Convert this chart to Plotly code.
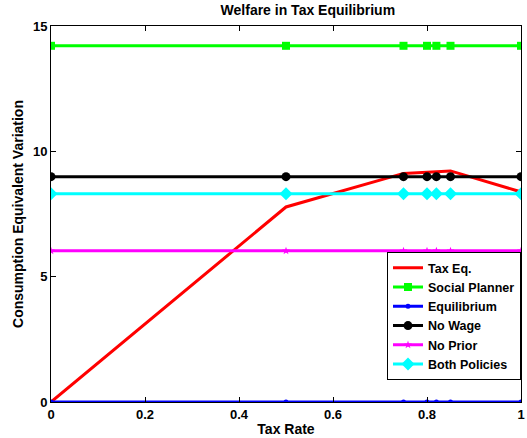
import plotly.graph_objects as go

tax_rate = [0, 0.5, 0.75, 0.8, 0.82, 0.85, 1.0]
tax_eq = [0.0, 7.78, 9.12, 9.18, 9.2, 9.22, 8.38]
social_planner = [14.21] * 7
equilibrium = [0.0] * 7
no_wage = [8.99] * 7
no_prior = [6.03] * 7
both_policies = [8.31] * 7

FONT = "Liberation Sans, Arial, sans-serif"

fig = go.Figure()
fig.add_trace(go.Scatter(x=tax_rate, y=tax_eq, name="Tax Eq.", mode="lines",
                         line=dict(color="#ff0000", width=3)))
fig.add_trace(go.Scatter(x=tax_rate, y=social_planner, name="Social Planner", mode="lines+markers",
                         line=dict(color="#00ff00", width=3),
                         marker=dict(symbol="square", size=8, color="#00ff00")))
fig.add_trace(go.Scatter(x=tax_rate, y=equilibrium, name="Equilibrium", mode="lines+markers",
                         line=dict(color="#0000ff", width=3),
                         marker=dict(symbol="circle", size=5, color="#0000ff")))
fig.add_trace(go.Scatter(x=tax_rate, y=no_wage, name="No Wage", mode="lines+markers",
                         line=dict(color="#000000", width=3),
                         marker=dict(symbol="circle", size=9, color="#000000")))
fig.add_trace(go.Scatter(x=tax_rate, y=no_prior, name="No Prior", mode="lines+markers",
                         line=dict(color="#ff00ff", width=3),
                         marker=dict(symbol="star", size=6, color="#ff00ff")))
fig.add_trace(go.Scatter(x=tax_rate, y=both_policies, name="Both Policies", mode="lines+markers",
                         line=dict(color="#00ffff", width=3),
                         marker=dict(symbol="diamond", size=10, color="#00ffff")))

axis_common = dict(showline=True, linecolor="black", linewidth=1, mirror="ticks",
                   ticks="inside", ticklen=5, tickcolor="black", showgrid=False, zeroline=False,
                   ticklabeloverflow="allow",
                   tickfont=dict(family=FONT, size=13, color="black", weight="bold"))

fig.update_layout(
    width=527, height=438,
    margin=dict(l=51, r=2, t=26, b=36),
    plot_bgcolor="white", paper_bgcolor="white",
    title=dict(text="<b>Welfare in Tax Equilibrium</b>", x=(51 + 525) / 2 / 527, xref="paper", xanchor="center",
               y=1 - 10 / 438, yanchor="middle",
               font=dict(family=FONT, size=14, color="black")),
    xaxis=dict(range=[0, 1], tickvals=[0, 0.2, 0.4, 0.6, 0.8, 1],
               ticktext=["0", "0.2", "0.4", "0.6", "0.8", "1"],
               title=dict(text="<b>Tax Rate</b>", font=dict(family=FONT, size=14, color="black"), standoff=3),
               **axis_common),
    yaxis=dict(range=[0, 15], tickvals=[0, 5, 10, 15],
               title=dict(text="<b>Consumption Equivalent Variation</b>", font=dict(family=FONT, size=14, color="black"), standoff=6),
               **axis_common),
    legend=dict(x=1, xanchor="right", y=0.058, yanchor="bottom",
                bordercolor="black", borderwidth=1, bgcolor="white",
                font=dict(family=FONT, size=12.5, color="black", weight="bold"),
                tracegroupgap=0, itemwidth=30),
    showlegend=True,
)

fig.write_html("out.html", config={"displayModeBar": False},
               post_script="document.body.style.margin='0';document.body.style.overflow='hidden';")
